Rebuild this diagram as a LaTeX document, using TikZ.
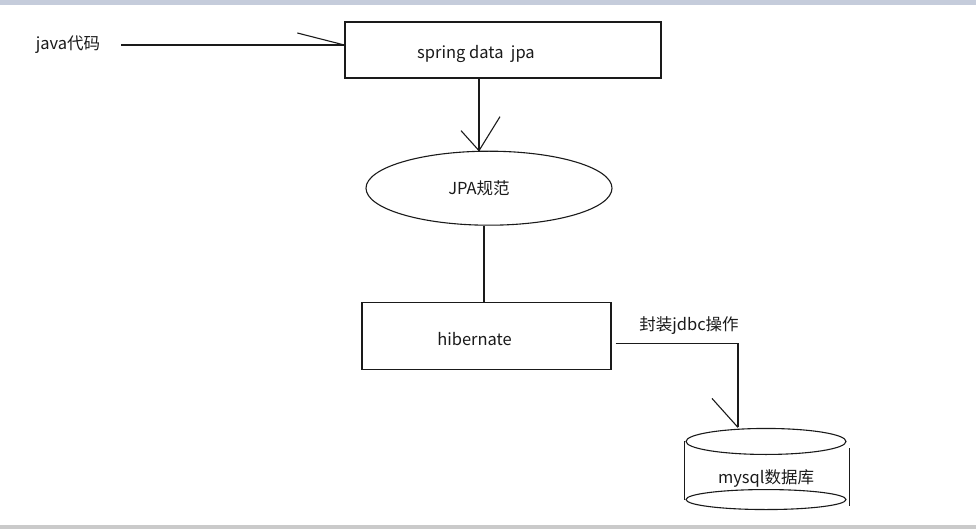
\documentclass[tikz,border=0pt]{standalone}
\usepackage{fontspec}
\setmainfont{Noto Sans CJK SC}
\usetikzlibrary{positioning}
\usetikzlibrary{shapes.geometric}
\definecolor{barblue}{HTML}{C5CCDB}
\definecolor{bargray}{HTML}{CACACA}
\definecolor{inkgray}{HTML}{1A1A1A}

\begin{document}
\begin{tikzpicture}[x=1pt,y=-1pt,line width=1.1pt,draw=inkgray,
    every node/.style={font=\fontsize{16.5pt}{19pt}\selectfont,text=inkgray},
    box/.style={draw=inkgray,rectangle,inner sep=0pt,line width=1.3pt},
    spec/.style={draw=inkgray,ellipse,inner sep=0pt,minimum width=246pt,minimum height=74pt}]
		%% window frame
		\useasboundingbox (0,0) rectangle (976,529);
		\fill[barblue] (0,0) rectangle (976,5);
		\fill[bargray] (0,525) rectangle (976,529);

		\node[box,minimum width=316pt,minimum height=56pt,
		      label={[xshift=-27pt,yshift=-4pt]center:spring data\ \ jpa}] (jpa) at (503,50) {};
		\node (java) at (68,45) {java代码};
		\coordinate (javaend) at (java -| jpa.west);
		\draw ([xshift=17pt]java.east) -- (javaend);
		\draw (javaend) -- ++(-47,-12);

		\node[spec,below=72pt of jpa,xshift=-14pt,
		      label={[xshift=-10pt]center:JPA规范}] (spec) {};
		\coordinate (spectop) at ([xshift=-10pt]spec.north);
		\draw ([xshift=-24pt]jpa.south) -- (spectop);
		\draw (spectop) -- ++(-18,-20);
		\draw (spectop) -- ++(21,-34);

		\node[box,minimum width=249pt,minimum height=67pt,below=76pt of spec,xshift=-2.5pt,
		      label={[xshift=-12pt,yshift=-3pt]center:hibernate}] (hib) {};
		\draw ([xshift=-5pt]spec.south) -- ([xshift=-2.5pt]hib.north);

		%% database
		\node[minimum width=162pt,minimum height=57pt,inner sep=0pt,
		      label={[yshift=-8pt]center:mysql数据库}] (db) at (766,470.5) {};
		\draw (db.north) ellipse [x radius=80pt,y radius=13pt];
		\draw (db.south) ellipse [x radius=80pt,y radius=10pt];
		\draw (db.north west) -- (db.south west);
		\draw ([shift={(2,7)}]db.north east) -- ([shift={(2,6)}]db.south east);

		\node (jdbc) at (689,326) {封装jdbc操作};
		\coordinate (dbtop) at ([shift={(-28,-14)}]db.north);
		\draw ([shift={(4,7.5)}]hib.east) -| (dbtop);
		\draw (dbtop) -- ++(-26,-29);
	\end{tikzpicture}
\end{document}
